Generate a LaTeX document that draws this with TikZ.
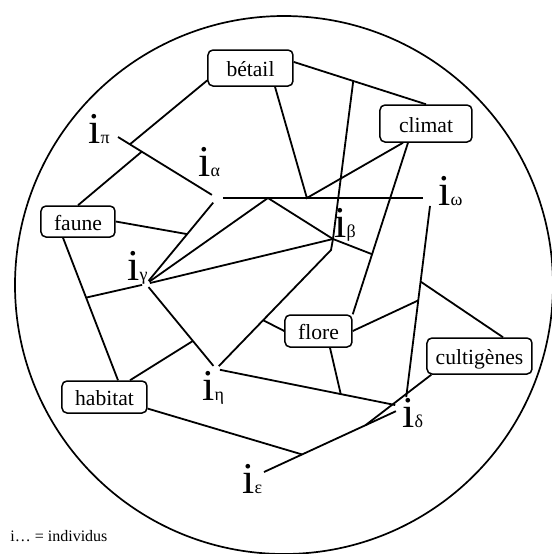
\documentclass[tikz,border=0pt]{standalone}
\usepackage{fontspec}
\setmainfont{Liberation Serif}
\usetikzlibrary{calc}

\tikzset{
  box/.style={draw, rounded corners=2.5pt, line width=0.75pt, inner sep=0pt,
    text height=8.5pt, text depth=0pt, font=\fontsize{10.8}{13}\selectfont},
  link/.style={line width=0.9pt},
  indiv/.style={anchor=base west, inner sep=0pt},
}
\newcommand{\ind}[1]{{\fontsize{22}{22}\selectfont i}{\fontsize{9}{9}\selectfont #1}}

\begin{document}
\begin{tikzpicture}[x=0.5pt, y=-0.5pt]
  \useasboundingbox (0,0) rectangle (552,554);
  \draw[line width=0.85pt] (284,285) circle [radius=269];

  % domaines
  \node[box, minimum width=42.5pt, minimum height=18pt] (betail) at (250.5,68) {bétail};
  \node[box, minimum width=46pt, minimum height=18.5pt] (climat) at (426,123.5) {climat};
  \node[box, minimum width=37pt, minimum height=15.5pt] (faune) at (78,221.5) {faune};
  \node[box, minimum width=33.5pt, minimum height=16pt] (flore) at (318.5,331) {flore};
  \node[box, minimum width=52.5pt, minimum height=18pt] (cultigenes) at (479.5,356) {cultigènes};
  \node[box, minimum width=42.5pt, minimum height=16pt] (habitat) at (104.5,397) {habitat};

  % individus
  \coordinate (pi) at (118,137);
  \coordinate (alpha) at (217,198);
  \coordinate (omega) at (431,198);
  \coordinate (beta) at (333,239);
  \coordinate (gamma) at (146,284);
  \coordinate (eta) at (216,369);
  \coordinate (delta) at (405,407);
  \coordinate (eps) at (264,472);
  \node[indiv] (lpi) at (88,143) {\ind{π}};
  \node[indiv] (lalpha) at (198,176) {\ind{α}};
  \node[indiv] (lomega) at (438,205) {\ind{ω}};
  \node[indiv] (lbeta) at (334,237) {\ind{β}};
  \node[indiv] (lgamma) at (127,280) {\ind{γ}};
  \node[indiv] (leta) at (202,400) {\ind{η}};
  \node[indiv] (ldelta) at (402,427) {\ind{δ}};
  \node[indiv] (leps) at (242,493) {\ind{ε}};

  % points d'attache
  \coordinate (b1) at (betail.196);
  \coordinate (b2) at ($(betail.south)+(24.5,0)$);
  \coordinate (b3) at (betail.8);
  \coordinate (c1) at ($(climat.south)+(-18,0)$);
  \coordinate (c2) at ($(climat.south)+(-23,0)$);
  \coordinate (f1) at ($(faune.south)+(-15,0)$);
  \coordinate (h1) at ($(habitat.north)+(13.5,0)$);
  \coordinate (h2) at ($(habitat.north)+(25.5,0)$);
  \coordinate (fl1) at ($(flore.south)+(11.5,0)$);
  \coordinate (cu1) at ($(cultigenes.north)+(23.5,0)$);
  \coordinate (cu2) at ($(cultigenes.south west)+(5,0)$);
  \coordinate (bb) at (331,250);

  % jonctions
  \coordinate (jPB) at ($(pi)!0.12!(alpha)$);
  \coordinate (jPF) at ($(pi)!0.24!(alpha)$);
  \coordinate (jA) at ($(alpha)!0.238!(omega)$);
  \coordinate (jV) at ($(alpha)!0.42!(omega)$);
  \coordinate (jBC) at ($(b3)!0.45!(climat.north)$);
  \coordinate (jCF) at ($(c1)!0.65!(flore.north east)$);
  \coordinate (jFL) at ($(bb)!0.59!(eta)$);
  \coordinate (jFA) at ($(alpha)!0.42!(gamma)$);
  \coordinate (jFH) at ($(f1)!0.42!(h1)$);
  \coordinate (jGE) at ($(gamma)!0.67!(eta)$);
  \coordinate (jFE) at ($(eta)!0.66!(delta)$);
  \coordinate (jOC) at ($(omega)!0.4!(delta)$);
  \coordinate (jOF) at ($(omega)!0.49!(delta)$);
  \coordinate (jDC) at ($(delta)!0.28!(eps)$);
  \coordinate (jDH) at ($(delta)!0.73!(eps)$);

  % liens
  \draw[link, shorten >=3pt] (pi) -- (alpha);
  \draw[link] (b1) -- (jPB);
  \draw[link] (faune.north) -- (jPF);
  \draw[link, shorten <=3pt, shorten >=4pt] (alpha) -- (omega);
  \draw[link, shorten <=3pt, shorten >=2pt] (alpha) -- (gamma);
  \draw[link] (faune.east) -- (jFA);
  \draw[link] (b2) -- (jV) -- (c2);
  \draw[link] (b3) -- (climat.north);
  \draw[link] (jBC) -- (beta);
  \draw[link] (c1) -- (flore.north east);
  \draw[link] (beta) -- (jCF);
  \draw[link, shorten <=2pt] (gamma) -- (jA) -- (beta);
  \draw[link, shorten <=2pt] (gamma) -- (beta);
  \draw[link, shorten >=2pt] (beta) -- (bb) -- (eta);
  \draw[link] (flore.west) -- (jFL);
  \draw[link] (f1) -- (h1);
  \draw[link, shorten >=2pt] (jFH) -- (gamma);
  \draw[link, shorten <=2pt, shorten >=2pt] (gamma) -- (eta);
  \draw[link] (h2) -- (jGE);
  \draw[link, shorten <=2pt, shorten >=5pt] (eta) -- (delta);
  \draw[link] (fl1) -- (jFE);
  \draw[link, shorten <=4pt, shorten >=5pt] (omega) -- (delta);
  \draw[link] (flore.east) -- (jOF);
  \draw[link] (cu1) -- (jOC);
  \draw[link, shorten <=5pt] (delta) -- (eps);
  \draw[link] (cu2) -- (jDC);
  \draw[link] (habitat.-15) -- (jDH);

  \node[anchor=base west, inner sep=0pt, font=\fontsize{8}{8}\selectfont] (legende) at (10,541) {i\ldots{} = individus};
\end{tikzpicture}
\end{document}
